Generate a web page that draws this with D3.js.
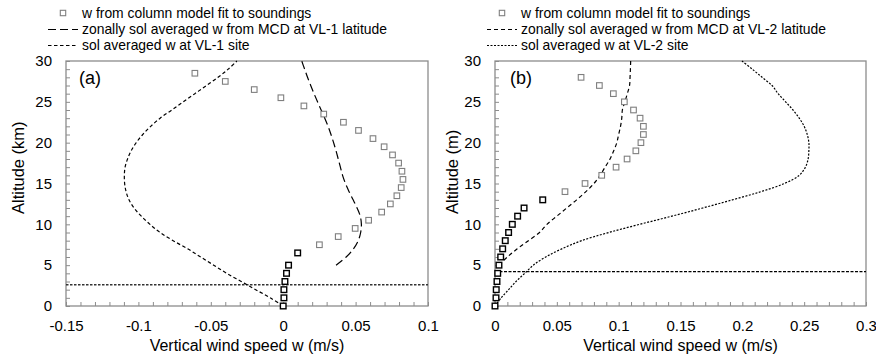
<!DOCTYPE html>
<html>
<head>
<script src="https://d3js.org/d3.v7.min.js"></script>
<style>
  body { margin: 0; background: #fff; }
  text { font-family: "Liberation Sans", Arial, sans-serif; fill: #000; }
</style>
</head>
<body>
<div id="chart"></div>
<script>
// ---- data: panel (a), VL-1 ----
var altFitA  = [0, 1, 2, 3, 4, 5, 6.5, 7.5, 8.5, 9.5, 10.5, 11.5, 12.5, 13.5, 14.5, 15.5, 16.5, 17.5, 18.5, 19.5, 20.5, 21.5, 22.5, 23.5, 24.5, 25.5, 26.5, 27.5, 28.5];
var wFitA    = [0, 0.0005, 0.0005, 0.0012, 0.0023, 0.0037, 0.010, 0.025, 0.038, 0.0497, 0.059, 0.068, 0.074, 0.0785, 0.0815, 0.0827, 0.082, 0.0797, 0.0755, 0.0697, 0.062, 0.052, 0.0416, 0.028, 0.0143, -0.0016, -0.020, -0.040, -0.061];
var nBlackA  = 7;   // first points drawn in black

var altMcdA  = [5, 6, 7, 8, 9, 10, 11, 12, 13, 14, 15, 16, 17, 18, 19, 20, 21, 22, 23, 24, 25, 26, 27, 28, 29, 30];
var wMcdA    = [0.0365, 0.0435, 0.0485, 0.0518, 0.0535, 0.054, 0.0532, 0.051, 0.0483, 0.0455, 0.043, 0.041, 0.0395, 0.038, 0.0365, 0.0348, 0.033, 0.031, 0.0287, 0.0262, 0.0237, 0.0213, 0.019, 0.0168, 0.0148, 0.0128];

var altSiteA = [0, 1, 2, 3, 4, 5, 6, 7, 8, 9, 10, 11, 12, 13, 14, 15, 16, 17, 18, 19, 20, 21, 22, 23, 24, 25, 26, 27, 28, 29, 30];
var wSiteA   = [0, -0.009, -0.019, -0.029, -0.039, -0.048, -0.057, -0.066, -0.076, -0.085, -0.092, -0.098, -0.103, -0.1065, -0.1085, -0.1095, -0.1097, -0.1092, -0.1075, -0.105, -0.1015, -0.097, -0.0915, -0.085, -0.077, -0.069, -0.061, -0.053, -0.045, -0.038, -0.032];
var pblA = 2.6;

// ---- data: panel (b), VL-2 ----
var altFitB  = [0, 1, 2, 3, 4, 5, 6, 7, 8, 9, 10, 11, 12, 13, 14, 15, 16, 17, 18, 19, 20, 21, 22, 23, 24, 25, 26, 27, 28];
var wFitB    = [0, 0.0008, 0.001, 0.0016, 0.0022, 0.0032, 0.0046, 0.0062, 0.0083, 0.011, 0.014, 0.0183, 0.0235, 0.0386, 0.0566, 0.0728, 0.0863, 0.0979, 0.1068, 0.1139, 0.118, 0.120, 0.120, 0.1173, 0.112, 0.1046, 0.0957, 0.0844, 0.0696];
var nBlackB  = 14;

var altMcdB  = [5, 6, 7, 8, 9, 10, 11, 12, 13, 14, 15, 16, 17, 18, 19, 20, 21, 22, 23, 24, 25, 26, 27, 28, 29, 30];
var wMcdB    = [0.003, 0.010, 0.018, 0.027, 0.036, 0.042, 0.050, 0.058, 0.066, 0.0735, 0.080, 0.085, 0.089, 0.093, 0.096, 0.0985, 0.100, 0.1015, 0.1025, 0.103, 0.105, 0.107, 0.1088, 0.1092, 0.1095, 0.1097];

var altSiteB = [0, 1, 2, 3, 4, 5, 6, 7, 8, 9, 10, 11, 12, 13, 14, 15, 16, 17, 18, 19, 20, 21, 22, 23, 24, 25, 26, 27, 28, 29, 30];
var wSiteB   = [0, 0.005, 0.011, 0.017, 0.024, 0.031, 0.041, 0.054, 0.070, 0.092, 0.117, 0.143, 0.168, 0.192, 0.215, 0.234, 0.246, 0.251, 0.2532, 0.2538, 0.2538, 0.2525, 0.250, 0.246, 0.241, 0.235, 0.229, 0.224, 0.216, 0.208, 0.1997];
var pblB = 4.2;

var xTicksA = [-0.15, -0.1, -0.05, 0, 0.05, 0.1];
var xTicksB = [0, 0.05, 0.1, 0.15, 0.2, 0.25, 0.3];
var yTicks  = [0, 5, 10, 15, 20, 25, 30];

var legendA = ["w from column model fit to soundings", "zonally sol averaged w from MCD at VL-1 latitude", "sol averaged w at VL-1 site"];
var legendB = ["w from column model fit to soundings", "zonally sol averaged w from MCD at VL-2 latitude", "sol averaged w at VL-2 site"];

var W = 876, H = 359;
var svg = d3.select('#chart').append('svg').attr('width', W).attr('height', H);

var fmt = d => String(+d.toFixed(2));
var zip = (a, w) => a.map((v, i) => [w[i], v]);

function panel(o) {
  var x = d3.scaleLinear().domain(o.xDomain).range([o.left, o.right]);
  var y = d3.scaleLinear().domain([0, 30]).range([o.bottom, o.top]);
  var g = svg.append('g');

  // minor ticks (inside)
  var xMinor = d3.range(Math.round(o.xDomain[0] * 100), Math.round(o.xDomain[1] * 100) + 1).map(v => v / 100);
  g.append('g').attr('transform', `translate(0,${o.bottom})`)
    .call(d3.axisBottom(x).tickValues(xMinor).tickSize(-4).tickFormat(''))
    .call(a => a.select('.domain').remove())
    .selectAll('line').attr('stroke', '#8c8c8c');
  g.append('g').attr('transform', `translate(${o.left},0)`)
    .call(d3.axisLeft(y).tickValues(d3.range(0, 31)).tickSize(-4).tickFormat(''))
    .call(a => a.select('.domain').remove())
    .selectAll('line').attr('stroke', '#8c8c8c');

  // labelled axes
  var xa = g.append('g').attr('transform', `translate(0,${o.bottom})`)
    .call(d3.axisBottom(x).tickValues(o.xTicks).tickSize(0).tickPadding(14).tickFormat(fmt));
  xa.select('.domain').remove();
  xa.selectAll('text').style('font-size', '15px').style('font-family', '"Liberation Sans", Arial, sans-serif').attr('fill', '#000');
  var ya = g.append('g').attr('transform', `translate(${o.left},0)`)
    .call(d3.axisLeft(y).tickValues(yTicks).tickSize(0).tickPadding(14));
  ya.select('.domain').remove();
  ya.selectAll('text').style('font-size', '15px').style('font-family', '"Liberation Sans", Arial, sans-serif').attr('fill', '#000');

  // frame
  g.append('rect').attr('x', o.left).attr('y', o.top)
    .attr('width', o.right - o.left).attr('height', o.bottom - o.top)
    .attr('fill', 'none').attr('stroke', '#8c8c8c').attr('stroke-width', 1.3);

  // PBL horizontal line
  g.append('line').attr('x1', o.left).attr('x2', o.right)
    .attr('y1', y(o.pbl)).attr('y2', y(o.pbl))
    .attr('stroke', o.pblColor).attr('stroke-width', 1.3).attr('stroke-dasharray', o.pblDash);

  var line = d3.line().x(d => x(d[0])).y(d => y(d[1])).curve(d3.curveCatmullRom);
  g.append('path').datum(zip(o.altMcd, o.wMcd)).attr('d', line)
    .attr('fill', 'none').attr('stroke', '#000').attr('stroke-width', 1.2).attr('stroke-dasharray', o.mcdDash);
  g.append('path').datum(zip(o.altSite, o.wSite)).attr('d', line)
    .attr('fill', 'none').attr('stroke', '#000').attr('stroke-width', 1.2).attr('stroke-dasharray', o.siteDash);

  // squares
  g.selectAll('rect.pt').data(zip(o.altFit, o.wFit)).enter().append('rect').attr('class', 'pt')
    .attr('x', d => x(d[0]) - 2.8).attr('y', d => y(d[1]) - 2.8)
    .attr('width', 5.6).attr('height', 5.6).attr('fill', '#fff')
    .attr('stroke', (d, i) => i < o.nBlack ? '#000' : '#7f7f7f')
    .attr('stroke-width', (d, i) => i < o.nBlack ? 1.4 : 1.1);

  // axis titles
  g.append('text').attr('x', (o.left + o.right) / 2).attr('y', 351)
    .attr('text-anchor', 'middle').style('font-size', '16px').text('Vertical wind speed w (m/s)');
  g.append('text').attr('transform', `translate(${o.yTitleX},214) rotate(-90)`)
    .attr('text-anchor', 'start').style('font-size', '16.5px').text(o.yTitle);
  g.append('text').attr('x', o.left + o.tagDx).attr('y', 84).style('font-size', '18px').text(o.tag);

  // legend
  var lx = o.legX;
  g.append('rect').attr('x', lx + 15 - 2.7).attr('y', 13 - 2.7).attr('width', 5.4).attr('height', 5.4)
    .attr('fill', '#fff').attr('stroke', '#7f7f7f').attr('stroke-width', 1.1);
  g.append('line').attr('x1', lx).attr('x2', lx + 30).attr('y1', 29.5).attr('y2', 29.5)
    .attr('stroke', '#000').attr('stroke-width', 1.2).attr('stroke-dasharray', o.mcdDash);
  g.append('line').attr('x1', lx).attr('x2', lx + 30).attr('y1', 45.5).attr('y2', 45.5)
    .attr('stroke', '#000').attr('stroke-width', 1.2).attr('stroke-dasharray', o.siteDash);
  o.legend.forEach((t, i) => {
    g.append('text').attr('x', lx + 34).attr('y', 17.5 + i * 16).style('font-size', '13.9px').text(t);
  });
}

panel({
  left: 66, right: 428, top: 61, bottom: 306, xDomain: [-0.15, 0.1], xTicks: xTicksA,
  altFit: altFitA, wFit: wFitA, nBlack: nBlackA,
  altMcd: altMcdA, wMcd: wMcdA, mcdDash: '8,4',
  altSite: altSiteA, wSite: wSiteA, siteDash: '3.5,2.5',
  pbl: pblA, pblDash: '2.5,1.5', pblColor: '#333',
  yTitle: 'Altitude (km)', yTitleX: 24, tag: '(a)', tagDx: 13,
  legX: 48, legend: legendA
});
panel({
  left: 495, right: 866, top: 61, bottom: 306, xDomain: [0, 0.3], xTicks: xTicksB,
  altFit: altFitB, wFit: wFitB, nBlack: nBlackB,
  altMcd: altMcdB, wMcd: wMcdB, mcdDash: '4,3',
  altSite: altSiteB, wSite: wSiteB, siteDash: '2,1.5',
  pbl: pblB, pblDash: '3,1.5', pblColor: '#000',
  yTitle: 'Altitude (m)', yTitleX: 458, tag: '(b)', tagDx: 15,
  legX: 487, legend: legendB
});
</script>
</body>
</html>
